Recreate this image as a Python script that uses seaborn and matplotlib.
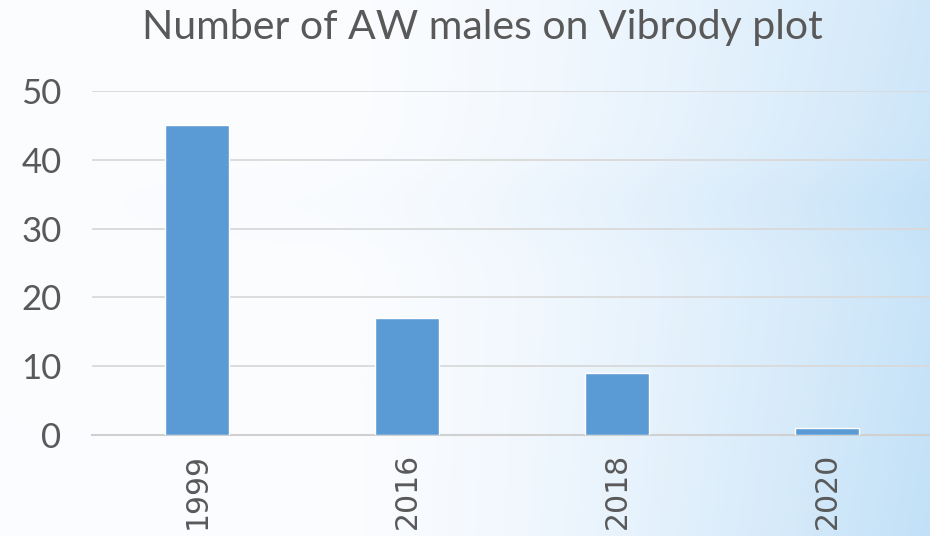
import numpy as np
import pandas as pd
import matplotlib
matplotlib.use("Agg")
import matplotlib.pyplot as plt
import seaborn as sns

years = ["1999", "2016", "2018", "2020"]
males = [45, 17, 9, 1]
title = "Number of AW males on Vibrody plot"

df = pd.DataFrame({"year": years, "males": males})

sns.set_style("white")
plt.rcParams["font.family"] = ["Lato", "DejaVu Sans"]

fig = plt.figure(figsize=(9.3, 5.36), dpi=100)

# background gradient
bg = fig.add_axes([0, 0, 1, 1], zorder=-10)
h, w = 200, 400
xx, yy = np.meshgrid(np.linspace(0, 1, w), np.linspace(0, 1, h))
t = np.clip((xx - 0.35) / 0.65, 0, 1) ** 1.5 * (0.75 + 0.25 * (1 - yy))
t += 0.12 * np.exp(-((yy - 0.62) / 0.08) ** 2) * xx
t = np.clip(t, 0, 1)
c0 = np.array([0.985, 0.99, 1.0])
c1 = np.array([0.76, 0.88, 0.97])
img = c0[None, None, :] * (1 - t[..., None]) + c1[None, None, :] * t[..., None]
bg.imshow(img, aspect="auto", extent=[0, 1, 0, 1], origin="lower")
bg.axis("off")

ax = fig.add_axes([92 / 930, 1 - 435 / 536, 840 / 930, (435 - 91) / 536])
ax.patch.set_alpha(0)
sns.barplot(data=df, x="year", y="males", color="#5B9BD5", width=0.305,
            saturation=1, ax=ax, zorder=3)
ax.set_xlim(-0.5, 3.5)
ax.set_ylim(0, 50)
ax.set_yticks([0, 10, 20, 30, 40, 50])
ax.yaxis.grid(True, color="#d9d9d9", lw=1.3, zorder=0)
ax.set_axisbelow(True)
for s in ["top", "right", "left"]:
    ax.spines[s].set_visible(False)
ax.spines["bottom"].set_color("#d0d0d0")
ax.spines["bottom"].set_linewidth(1.5)
ax.set_xlabel("")
ax.set_ylabel("")
ax.tick_params(axis="y", labelsize=25, colors="#595959", length=0, pad=22)
ax.tick_params(axis="x", length=0, pad=13)
for lbl in ax.get_xticklabels():
    lbl.set_rotation(90)
    lbl.set_fontsize(21.5)
    lbl.set_family("DejaVu Sans")
    lbl.set_color("#595959")

fig.text(482 / 930, 1 - 27 / 536, title, ha="center", va="center",
         fontsize=29.5, color="#595959")

fig.savefig("out.png", dpi=100)
